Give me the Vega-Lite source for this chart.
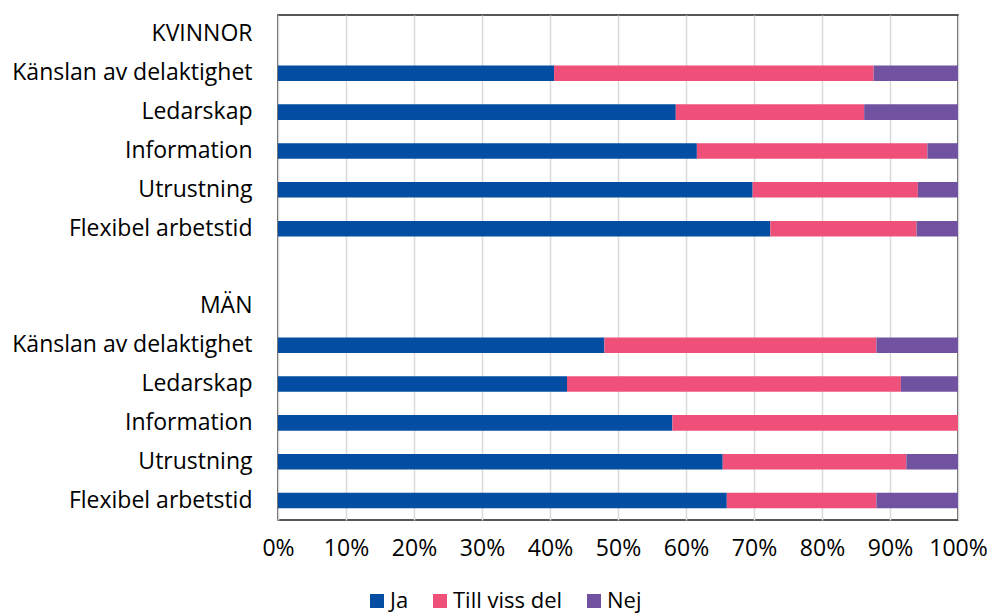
{
  "$schema": "https://vega.github.io/schema/vega-lite/v6.json",
  "width": 680,
  "height": 505,
  "autosize": {"type": "none"},
  "padding": {"left": 278, "top": 15, "right": 29, "bottom": 96},
  "background": "white",
  "config": {
    "font": "Open Sans",
    "view": {"stroke": "#1f1f1f", "strokeWidth": 1.5},
    "axis": {"labelFont": "Open Sans", "labelColor": "#000", "labelFontSize": 23},
    "legend": {"labelFont": "Open Sans", "labelColor": "#000", "labelFontSize": 22}
  },
  "data": {
    "values": [
      {"rad": "Känslan av delaktighet|K", "svar": "Ja", "nr": 1, "andel": 40.6},
      {"rad": "Känslan av delaktighet|K", "svar": "Till viss del", "nr": 2, "andel": 47.0},
      {"rad": "Känslan av delaktighet|K", "svar": "Nej", "nr": 3, "andel": 12.4},
      {"rad": "Ledarskap|K", "svar": "Ja", "nr": 1, "andel": 58.5},
      {"rad": "Ledarskap|K", "svar": "Till viss del", "nr": 2, "andel": 27.7},
      {"rad": "Ledarskap|K", "svar": "Nej", "nr": 3, "andel": 13.8},
      {"rad": "Information|K", "svar": "Ja", "nr": 1, "andel": 61.6},
      {"rad": "Information|K", "svar": "Till viss del", "nr": 2, "andel": 33.9},
      {"rad": "Information|K", "svar": "Nej", "nr": 3, "andel": 4.5},
      {"rad": "Utrustning|K", "svar": "Ja", "nr": 1, "andel": 69.8},
      {"rad": "Utrustning|K", "svar": "Till viss del", "nr": 2, "andel": 24.3},
      {"rad": "Utrustning|K", "svar": "Nej", "nr": 3, "andel": 5.9},
      {"rad": "Flexibel arbetstid|K", "svar": "Ja", "nr": 1, "andel": 72.4},
      {"rad": "Flexibel arbetstid|K", "svar": "Till viss del", "nr": 2, "andel": 21.5},
      {"rad": "Flexibel arbetstid|K", "svar": "Nej", "nr": 3, "andel": 6.1},
      {"rad": "Känslan av delaktighet|M", "svar": "Ja", "nr": 1, "andel": 48.0},
      {"rad": "Känslan av delaktighet|M", "svar": "Till viss del", "nr": 2, "andel": 40.0},
      {"rad": "Känslan av delaktighet|M", "svar": "Nej", "nr": 3, "andel": 12.0},
      {"rad": "Ledarskap|M", "svar": "Ja", "nr": 1, "andel": 42.5},
      {"rad": "Ledarskap|M", "svar": "Till viss del", "nr": 2, "andel": 49.1},
      {"rad": "Ledarskap|M", "svar": "Nej", "nr": 3, "andel": 8.4},
      {"rad": "Information|M", "svar": "Ja", "nr": 1, "andel": 58.0},
      {"rad": "Information|M", "svar": "Till viss del", "nr": 2, "andel": 42.0},
      {"rad": "Information|M", "svar": "Nej", "nr": 3, "andel": 0},
      {"rad": "Utrustning|M", "svar": "Ja", "nr": 1, "andel": 65.4},
      {"rad": "Utrustning|M", "svar": "Till viss del", "nr": 2, "andel": 27.0},
      {"rad": "Utrustning|M", "svar": "Nej", "nr": 3, "andel": 7.6},
      {"rad": "Flexibel arbetstid|M", "svar": "Ja", "nr": 1, "andel": 66.0},
      {"rad": "Flexibel arbetstid|M", "svar": "Till viss del", "nr": 2, "andel": 22.0},
      {"rad": "Flexibel arbetstid|M", "svar": "Nej", "nr": 3, "andel": 12.0}
    ]
  },
  "mark": {"type": "bar"},
  "encoding": {
    "y": {
      "field": "rad",
      "type": "nominal",
      "scale": {
        "domain": [
          "KVINNOR|K", "Känslan av delaktighet|K", "Ledarskap|K", "Information|K", "Utrustning|K", "Flexibel arbetstid|K",
          " |-",
          "MÄN|M", "Känslan av delaktighet|M", "Ledarskap|M", "Information|M", "Utrustning|M", "Flexibel arbetstid|M"
        ],
        "paddingInner": 0.6,
        "paddingOuter": 0.3
      },
      "axis": {
        "title": null,
        "domain": false,
        "ticks": false,
        "labelPadding": 26,
        "labelLimit": 300,
        "labelExpr": "split(datum.label, '|')[0]"
      }
    },
    "x": {
      "field": "andel",
      "type": "quantitative",
      "stack": "normalize",
      "scale": {"domain": [0, 1], "nice": false},
      "axis": {
        "title": null,
        "format": ".0%",
        "values": [0, 0.1, 0.2, 0.3, 0.4, 0.5, 0.6, 0.7, 0.8, 0.9, 1],
        "labelOverlap": false,
        "labelFlush": false,
        "domain": false,
        "ticks": false,
        "labelPadding": 17,
        "grid": true,
        "gridColor": "#d9d9d9",
        "gridWidth": 1.5
      }
    },
    "color": {
      "field": "svar",
      "type": "nominal",
      "sort": ["Ja", "Till viss del", "Nej"],
      "scale": {"domain": ["Ja", "Till viss del", "Nej"], "range": ["#034ea2", "#ef5079", "#7052a1"]},
      "legend": {
        "title": null,
        "orient": "none",
        "direction": "horizontal",
        "legendX": 88,
        "legendY": 575,
        "symbolType": "square",
        "symbolSize": 196,
        "symbolStrokeWidth": 0,
        "columnPadding": 20,
        "labelOffset": 2
      }
    },
    "order": {"field": "nr", "type": "quantitative", "sort": "ascending"}
  }
}
